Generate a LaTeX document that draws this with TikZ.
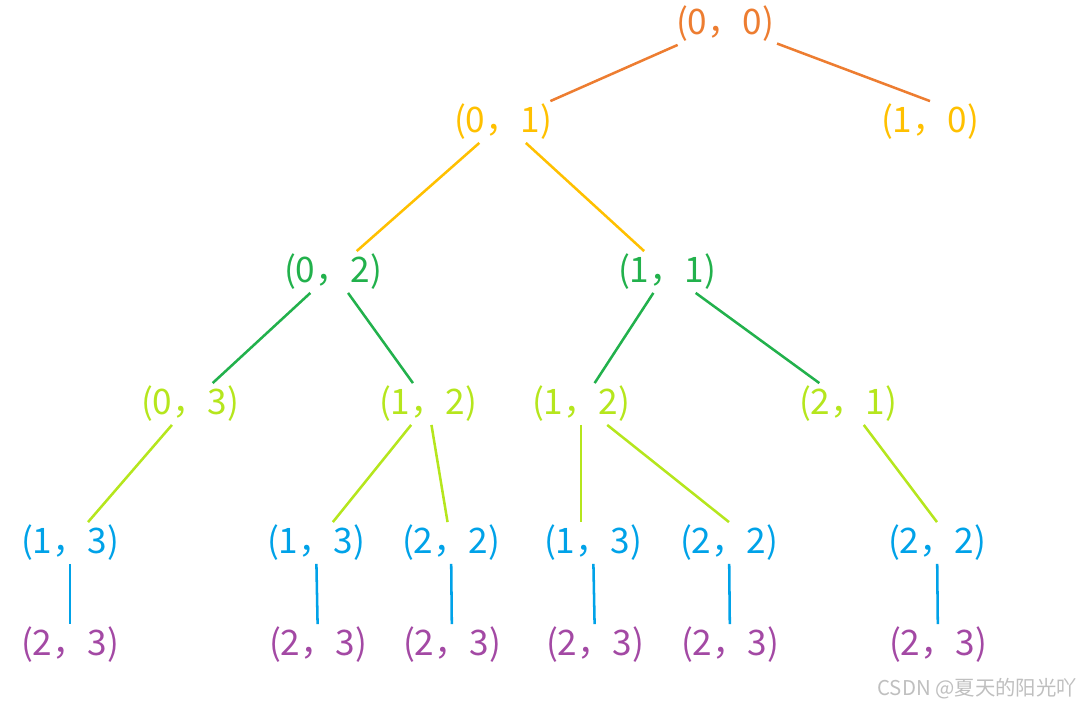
\documentclass[tikz,border=0pt]{standalone}
\usepackage{fontspec}
\newfontfamily\cjkfont{Noto Sans CJK SC}
\usetikzlibrary{positioning}
\definecolor{lvorange}{RGB}{237,125,49}
\definecolor{lvyellow}{RGB}{255,192,0}
\definecolor{lvgreen}{RGB}{34,177,76}
\definecolor{lvlime}{RGB}{181,230,29}
\definecolor{lvblue}{RGB}{0,162,232}
\definecolor{lvpurple}{RGB}{163,73,164}

\begin{document}
\begin{tikzpicture}[
  x=0.025cm, y=-0.025cm,
  pt/.style={font=\cjkfont\fontsize{25}{30}\selectfont, inner sep=2pt},
  br/.style={line width=1.8pt}
]
  \useasboundingbox (0,0) rectangle (1084,706);
  % level 0 and 1
  \node[pt, text=lvorange] (n00) at (725,24) {(0，0)};
  \node[pt, text=lvyellow] (n01) at (503,122) {(0，1)};
  \node[pt, text=lvyellow] (n10) at (930,122) {(1，0)};
  % level 2
  \node[pt, text=lvgreen] (n02) at (333,272) {(0，2)};
  \node[pt, text=lvgreen] (n11) at (667,272) {(1，1)};
  % level 3
  \node[pt, text=lvlime] (n03) at (190,404) {(0，3)};
  \node[pt, text=lvlime] (n12a) at (428,404) {(1，2)};
  \node[pt, text=lvlime] (n12b) at (581,404) {(1，2)};
  \node[pt, text=lvlime] (n21) at (848,404) {(2，1)};
  % level 4
  \node[pt, text=lvblue] (n13a) at (70,543) {(1，3)};
  \node[pt, text=lvblue] (n13b) at (316,543) {(1，3)};
  \node[pt, text=lvblue] (n22a) at (451,543) {(2，2)};
  \node[pt, text=lvblue] (n13c) at (593,543) {(1，3)};
  \node[pt, text=lvblue] (n22b) at (729,543) {(2，2)};
  \node[pt, text=lvblue] (n22c) at (937,543) {(2，2)};
  % level 5
  \node[pt, text=lvpurple] (n23a) at (70,645) {(2，3)};
  \node[pt, text=lvpurple] (n23b) at (318,645) {(2，3)};
  \node[pt, text=lvpurple] (n23c) at (452,645) {(2，3)};
  \node[pt, text=lvpurple] (n23d) at (595,645) {(2，3)};
  \node[pt, text=lvpurple] (n23e) at (730,645) {(2，3)};
  \node[pt, text=lvpurple] (n23f) at (938,645) {(2，3)};

  \draw[br, lvorange] (n00) -- (n01);
  \draw[br, lvorange] (n00) -- (n10.north);
  \draw[br, lvyellow] (n01) -- (n02);
  \draw[br, lvyellow] (n01) -- (n11);
  \draw[br, lvgreen] (n02) -- (n03);
  \draw[br, lvgreen] (n02) -- (n12a);
  \draw[br, lvgreen] (n11) -- (n12b);
  \draw[br, lvgreen] (n11) -- (n21);
  \draw[br, lvlime] (n03) -- (n13a);
  \draw[br, lvlime] (n12a) -- (n13b);
  \draw[br, lvlime] (n12a) -- (n22a);
  \draw[br, lvlime] (n12b) -- (n12b |- n13c.north);
  \draw[br, lvlime] (n12b) -- (n22b.north);
  \draw[br, lvlime] (n21) -- (n22c.north);
  \foreach \a/\b in {n13a/n23a, n13b/n23b, n22a/n23c, n13c/n23d, n22b/n23e, n22c/n23f}
    \draw[br, lvblue] (\a) -- (\b);

  \node[font=\cjkfont\fontsize{14.5}{16}\selectfont, text=black!25, anchor=east] (mark) at (1082,689) {CSDN @夏天的阳光吖};
\end{tikzpicture}
\end{document}
